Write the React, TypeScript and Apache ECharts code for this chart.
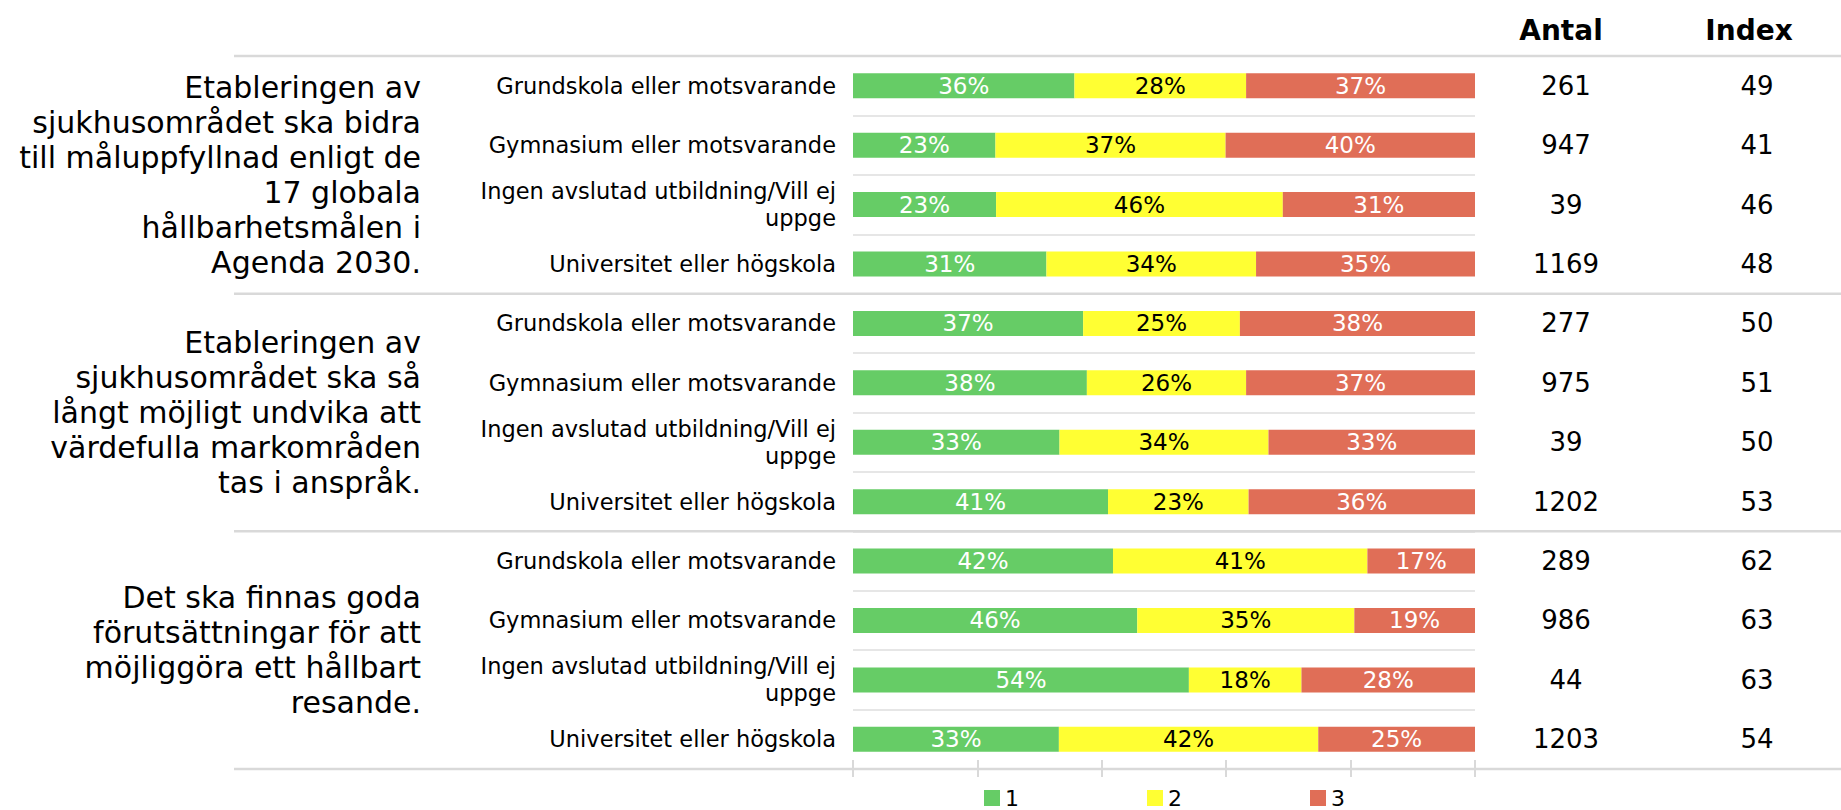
import React, { useEffect, useRef } from "react";
import * as echarts from "echarts";

// ---- data ----
const statements = [
  "Etableringen av\nsjukhusområdet ska bidra\ntill måluppfyllnad enligt de\n17 globala\nhållbarhetsmålen i\nAgenda 2030.",
  "Etableringen av\nsjukhusområdet ska så\nlångt möjligt undvika att\nvärdefulla markområden\ntas i anspråk.",
  "Det ska finnas goda\nförutsättningar för att\nmöjliggöra ett hållbart\nresande.",
];
const educationLevels = [
  "Grundskola eller motsvarande",
  "Gymnasium eller motsvarande",
  "Ingen avslutad utbildning/Vill ej\nuppge",
  "Universitet eller högskola",
];
const seriesNames = ["1", "2", "3"];
// shares (%) per row, rows = statement x education level, top to bottom
const share1 = [35.6, 22.9, 23.0, 31.1, 37.0, 37.6, 33.2, 41.0, 41.8, 45.7, 54.0, 33.1];
const share2 = [27.6, 37.0, 46.1, 33.7, 25.2, 25.6, 33.6, 22.6, 40.9, 34.9, 18.1, 41.7];
const share3 = [36.8, 40.1, 30.9, 35.2, 37.8, 36.8, 33.2, 36.4, 17.3, 19.4, 27.9, 25.2];
const antal = [261, 947, 39, 1169, 277, 975, 39, 1202, 289, 986, 44, 1203];
const indexValues = [49, 41, 46, 48, 50, 51, 50, 53, 62, 63, 63, 54];
const columnHeaders = ["Antal", "Index"];

const colors = ["#66cc66", "#ffff33", "#e06e57"];
const FONT = "DejaVu Sans";

export default function App() {
  const ref = useRef<HTMLDivElement>(null);

  useEffect(() => {
    if (!ref.current) return;
    const chart = echarts.init(ref.current, null, { renderer: "svg" });

    const W = 1841;
    const H = 810;
    const gridLeft = 853;
    const gridRight = 366;
    const gridTop = 56;
    const gridBottom = 41;
    const plotH = H - gridTop - gridBottom;

    const rowKeys: string[] = [];
    const rowLabels: string[] = [];
    statements.forEach((s, gi) => {
      educationLevels.forEach((l, li) => {
        rowKeys.push(`g${gi}_r${li}`);
        rowLabels.push(l);
      });
    });
    const groupKeys = statements.map((_, i) => `g${i}`);
    const rowsPerGroup = educationLevels.length;
    const nRows = rowKeys.length;

    const shares = [share1, share2, share3];
    const labelColors = ["#ffffff", "#000000", "#ffffff"];

    const series = shares.map((arr, si) => ({
      name: seriesNames[si],
      type: "bar",
      stack: "total",
      xAxisIndex: 0,
      yAxisIndex: 0,
      barWidth: 25,
      data: arr,
      itemStyle: { color: colors[si] },
      label: {
        show: true,
        position: "inside",
        formatter: (p: any) => `${Math.round(p.value)}%`,
        color: labelColors[si],
        fontFamily: FONT,
        fontSize: 23,
      },
    }));

    const groupLines: any[] = [];
    for (let k = 0; k <= statements.length; k++) {
      const y = gridTop + (k * rowsPerGroup * plotH) / nRows;
      groupLines.push({
        type: "line",
        shape: { x1: 234, y1: y, x2: W, y2: y },
        style: { stroke: "#d9d9d9", lineWidth: 2.5 },
        z: 5,
      });
    }

    const option: any = {
      animation: false,
      grid: { left: gridLeft, right: gridRight, top: gridTop, bottom: gridBottom, containLabel: false },
      legend: {
        data: seriesNames,
        left: 984,
        top: 787,
        padding: 0,
        itemWidth: 16,
        itemHeight: 16,
        itemGap: 128,
        icon: "rect",
        textStyle: { fontFamily: FONT, fontSize: 22, color: "#000", lineHeight: 22 },
      },
      xAxis: [
        {
          type: "value",
          min: 0,
          max: 100,
          interval: 20,
          position: "bottom",
          axisLine: { show: false },
          axisTick: { show: true, length: 8, lineStyle: { color: "#d9d9d9", width: 2 } },
          axisLabel: { show: false },
          splitLine: { show: false },
        },
        {
          type: "value",
          min: 0,
          max: 100,
          interval: 20,
          position: "bottom",
          axisLine: { show: false },
          axisTick: { show: true, inside: true, length: 9, lineStyle: { color: "#d9d9d9", width: 2 } },
          axisLabel: { show: false },
          splitLine: { show: false },
        },
      ],
      yAxis: [
        {
          type: "category",
          data: rowKeys,
          inverse: true,
          position: "left",
          axisLine: { show: false },
          axisTick: { show: false },
          splitLine: { show: true, lineStyle: { color: "#e6e6e6", width: 2 } },
          axisLabel: {
            interval: 0,
            margin: 17,
            formatter: (_v: string, i: number) => rowLabels[i],
            fontFamily: FONT,
            fontSize: 22.5,
            lineHeight: 27,
            color: "#000",
            align: "right",
          },
        },
        {
          type: "category",
          data: groupKeys,
          inverse: true,
          position: "left",
          axisLine: { show: false },
          axisTick: { show: false },
          splitLine: { show: false },
          axisLabel: {
            interval: 0,
            margin: 432,
            formatter: (_v: string, i: number) => statements[i],
            fontFamily: FONT,
            fontSize: 30,
            lineHeight: 35,
            color: "#000",
            align: "right",
          },
        },
        {
          type: "category",
          data: rowKeys,
          inverse: true,
          position: "right",
          axisLine: { show: false },
          axisTick: { show: false },
          splitLine: { show: false },
          axisLabel: {
            interval: 0,
            margin: 91,
            align: "center",
            formatter: (_v: string, i: number) => String(antal[i]),
            fontFamily: FONT,
            fontSize: 26,
            color: "#000",
          },
        },
        {
          type: "category",
          data: rowKeys,
          inverse: true,
          position: "right",
          axisLine: { show: false },
          axisTick: { show: false },
          splitLine: { show: false },
          axisLabel: {
            interval: 0,
            margin: 282,
            align: "center",
            formatter: (_v: string, i: number) => String(indexValues[i]),
            fontFamily: FONT,
            fontSize: 26,
            color: "#000",
          },
        },
      ],
      series,
      graphic: [
        ...groupLines,
        {
          type: "text",
          x: 1561,
          y: 30,
          style: {
            text: columnHeaders[0],
            fontFamily: FONT,
            fontSize: 28,
            fontWeight: "bold",
            fill: "#000",
            textAlign: "center",
            textVerticalAlign: "middle",
          },
        },
        {
          type: "text",
          x: 1749,
          y: 30,
          style: {
            text: columnHeaders[1],
            fontFamily: FONT,
            fontSize: 28,
            fontWeight: "bold",
            fill: "#000",
            textAlign: "center",
            textVerticalAlign: "middle",
          },
        },
      ],
    };

    chart.setOption(option);
    return () => chart.dispose();
  }, []);

  return (
    <div
      ref={ref}
      style={{ position: "fixed", left: 0, top: 0, width: 1841, height: 810, background: "#fff" }}
    />
  );
}
